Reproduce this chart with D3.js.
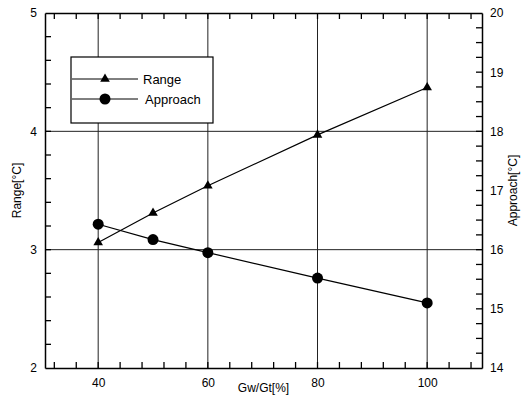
<!DOCTYPE html>
<html>
<head>
<meta charset="utf-8">
<script src="https://cdn.jsdelivr.net/npm/d3@7"></script>
<style>
  body { margin: 0; background: #fff; }
  svg { font-family: "Liberation Sans", Arial, sans-serif; }
</style>
</head>
<body>
<svg id="chart" width="531" height="400"></svg>
<script>
const gwgt = [40, 50, 60, 80, 100];
const range = [3.06, 3.31, 3.54, 3.97, 4.37];
const approach = [16.43, 16.17, 15.95, 15.52, 15.10];
const xTicks = [40, 60, 80, 100];
const leftTicks = [2, 3, 4, 5];
const rightTicks = [14, 15, 16, 17, 18, 19, 20];

const margin = {top: 13, right: 49, bottom: 32, left: 45};
const width = 531, height = 400;

const svg = d3.select("#chart");

const x = d3.scaleLinear().domain([30.3, 110]).range([margin.left, width - margin.right]);
const yL = d3.scaleLinear().domain([2, 5]).range([height - margin.bottom, margin.top]);
const yR = d3.scaleLinear().domain([14, 20]).range([height - margin.bottom, margin.top]);

const x0 = x.range()[0], x1 = x.range()[1];
const y0 = yL.range()[0], y1 = yL.range()[1];

// grid lines
svg.append("g").selectAll("line")
    .data(xTicks)
    .join("line")
    .attr("x1", d => x(d)).attr("x2", d => x(d))
    .attr("y1", y0).attr("y2", y1)
    .attr("stroke", "#222").attr("stroke-width", 1);

svg.append("g").selectAll("line")
    .data([3, 4])
    .join("line")
    .attr("x1", x0).attr("x2", x1)
    .attr("y1", d => yL(d)).attr("y2", d => yL(d))
    .attr("stroke", "#222").attr("stroke-width", 1);

// axes with labels only
svg.append("g")
    .attr("transform", `translate(0,${y0})`)
    .call(d3.axisBottom(x).tickValues(xTicks).tickSize(0).tickPadding(10));
svg.append("g")
    .attr("transform", `translate(0,${y1})`)
    .call(d3.axisTop(x).tickValues([]).tickSize(0));
svg.append("g")
    .attr("transform", `translate(${x0},0)`)
    .call(d3.axisLeft(yL).tickValues(leftTicks).tickSize(0).tickPadding(8).tickFormat(d3.format("d")));
svg.append("g")
    .attr("transform", `translate(${x1},0)`)
    .call(d3.axisRight(yR).tickValues(rightTicks).tickSize(0).tickPadding(8).tickFormat(d3.format("d")));

svg.selectAll(".domain").attr("stroke", "#000").attr("stroke-width", 1.5);
svg.selectAll(".tick text").attr("font-size", 12).attr("fill", "#000")
    .attr("font-family", "'Liberation Sans', Arial, sans-serif");

// minor ticks, pointing inward
const minorX = d3.range(32, 110, 4);
const minorL = d3.range(2.2, 4.9, 0.2);
const minorR = d3.range(14.25, 19.9, 0.25);
const tk = svg.append("g").attr("stroke", "#000").attr("stroke-width", 1.3);
tk.selectAll(".mxb").data(minorX).join("line").attr("class", "mxb")
    .attr("x1", d => x(d)).attr("x2", d => x(d)).attr("y1", y0).attr("y2", y0 - 6);
tk.selectAll(".mxt").data(minorX).join("line").attr("class", "mxt")
    .attr("x1", d => x(d)).attr("x2", d => x(d)).attr("y1", y1).attr("y2", y1 + 6);
tk.selectAll(".ml").data(minorL).join("line").attr("class", "ml")
    .attr("x1", x0).attr("x2", x0 + 6).attr("y1", d => yL(d)).attr("y2", d => yL(d));
tk.selectAll(".mr").data(minorR).join("line").attr("class", "mr")
    .attr("x1", x1).attr("x2", x1 - 6).attr("y1", d => yR(d)).attr("y2", d => yR(d));

// axis titles
svg.append("text")
    .attr("x", (x0 + x1) / 2).attr("y", 392)
    .attr("text-anchor", "middle").attr("font-size", 12)
    .text("Gw/Gt[%]");
svg.append("text")
    .attr("transform", `translate(21,${(y0 + y1) / 2}) rotate(-90)`)
    .attr("text-anchor", "middle").attr("font-size", 12)
    .text("Range[°C]");
svg.append("text")
    .attr("transform", `translate(517,${(y0 + y1) / 2}) rotate(-90)`)
    .attr("text-anchor", "middle").attr("font-size", 12)
    .text("Approach[°C]");

// series
const lineR = d3.line().x((d, i) => x(gwgt[i])).y(d => yL(d));
const lineA = d3.line().x((d, i) => x(gwgt[i])).y(d => yR(d));

svg.append("path").datum(range)
    .attr("d", lineR).attr("fill", "none").attr("stroke", "#000").attr("stroke-width", 1.2);
svg.append("path").datum(approach)
    .attr("d", lineA).attr("fill", "none").attr("stroke", "#000").attr("stroke-width", 1.2);

const tri = d3.symbol().type(d3.symbolTriangle).size(40);
svg.append("g").selectAll("path")
    .data(range)
    .join("path")
    .attr("d", tri)
    .attr("transform", (d, i) => `translate(${x(gwgt[i])},${yL(d)})`)
    .attr("fill", "#000");

svg.append("g").selectAll("circle")
    .data(approach)
    .join("circle")
    .attr("cx", (d, i) => x(gwgt[i]))
    .attr("cy", d => yR(d))
    .attr("r", 5.5)
    .attr("fill", "#000");

// legend
const lg = svg.append("g");
lg.append("rect")
    .attr("x", 71).attr("y", 57).attr("width", 142).attr("height", 66)
    .attr("fill", "#fff").attr("stroke", "#000").attr("stroke-width", 1.2);
const items = [{name: "Range", type: "tri", y: 79}, {name: "Approach", type: "circ", y: 99}];
items.forEach(it => {
    lg.append("line")
        .attr("x1", 72).attr("x2", 138).attr("y1", it.y).attr("y2", it.y)
        .attr("stroke", "#000").attr("stroke-width", 1);
    if (it.type === "tri") {
        lg.append("path").attr("d", tri)
            .attr("transform", `translate(105,${it.y})`).attr("fill", "#000");
    } else {
        lg.append("circle").attr("cx", 105).attr("cy", it.y).attr("r", 5.5).attr("fill", "#000");
    }
    lg.append("text")
        .attr("x", it.type === "tri" ? 143 : 145).attr("y", it.y + 5)
        .attr("font-size", 13)
        .text(it.name);
});
</script>
</body>
</html>
